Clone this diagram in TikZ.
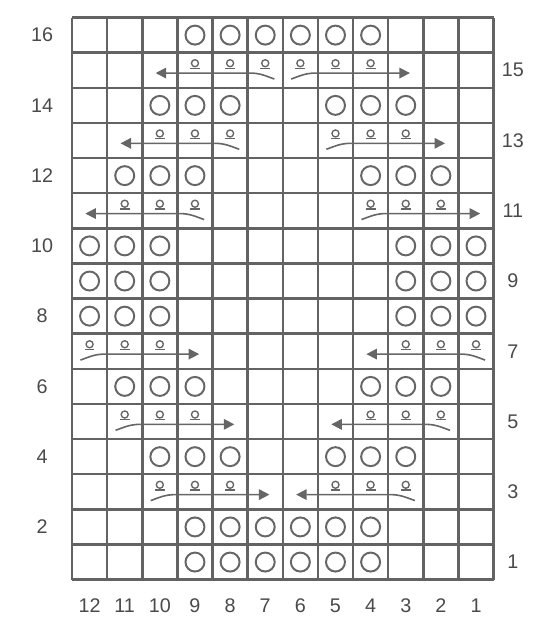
\documentclass[tikz,border=0pt]{standalone}
\usepackage{fontspec}
\setmainfont{Liberation Sans}
\usepackage{xcolor}
\usepackage{tikz}
\usetikzlibrary{arrows.meta}
\definecolor{gridgray}{HTML}{636363}
\definecolor{stitchgray}{HTML}{666666}
\definecolor{labelgray}{HTML}{4A4A4A}

\begin{document}
\begin{tikzpicture}[
  x=1cm, y=1cm,
  gridline/.style={draw=gridgray, line width=2pt},
  bigst/.style={draw=stitchgray, line width=1.6pt},
  smallst/.style={draw=stitchgray, line width=1.1pt},
  arr/.style={-{Triangle[length=3mm,width=3mm]}, draw=stitchgray, line width=1.3pt},
  lbl/.style={font=\fontsize{16}{18}\selectfont, text=labelgray, inner sep=0pt}
]
\useasboundingbox (-2.05,-1.32) rectangle (13.53,16.5);
\draw[gridline] (0,0) grid (12,16);
% knit stitches
\foreach \r/\a/\b in {16/3/8, 14/2/4, 14/7/9, 12/1/3, 12/8/10, 10/0/2, 10/9/11,
    9/0/2, 9/9/11, 8/0/2, 8/9/11, 6/1/3, 6/8/10, 4/2/4, 4/7/9, 2/3/8, 1/3/8}
  \foreach \c in {\a,...,\b}
    \draw[bigst] (\c+0.5,\r-0.5) circle (0.27);
% moved stitches: row/first/last/direction
\foreach \r/\a/\b/\d [count=\i] in {15/3/5/-1, 15/6/8/1, 13/2/4/-1, 13/7/9/1,
    11/1/3/-1, 11/8/10/1, 7/0/2/1, 7/9/11/-1, 5/1/3/1, 5/8/10/-1, 3/2/4/1, 3/7/9/-1} {
  \foreach \c in {\a,...,\b} {
    \draw[smallst] (\c+0.5,\r-0.3) circle (0.1);
    \draw[smallst] (\c+0.36,\r-0.45) -- (\c+0.64,\r-0.45);
  }
  \pgfmathsetmacro\xs{\d>0 ? \a+0.24 : \b+0.76}
  \pgfmathsetmacro\xe{\d>0 ? \b+1.62 : \a-0.62}
  \pgfmathsetmacro\oa{90-70*\d}
  \pgfmathsetmacro\ia{90+90*\d}
  \coordinate (tail\i) at (\xs,\r-0.75);
  \coordinate (tip\i) at (\xe,\r-0.58);
  \draw[arr] (tail\i) to[out=\oa,in=\ia] ++(0.7*\d,0.17) -- (tip\i);
}
% row and column numbers
\foreach \r in {2,4,...,16}
  \node[lbl] (even\r) at (-0.85,\r-0.5) {\r};
\foreach \r in {1,3,...,15}
  \node[lbl] (odd\r) at (12.55,\r-0.5) {\r};
\foreach \c [evaluate=\c as \n using int(12-\c)] in {0,...,11}
  \node[lbl] (col\n) at (\c+0.5,-0.75) {\n};
\end{tikzpicture}
\end{document}
